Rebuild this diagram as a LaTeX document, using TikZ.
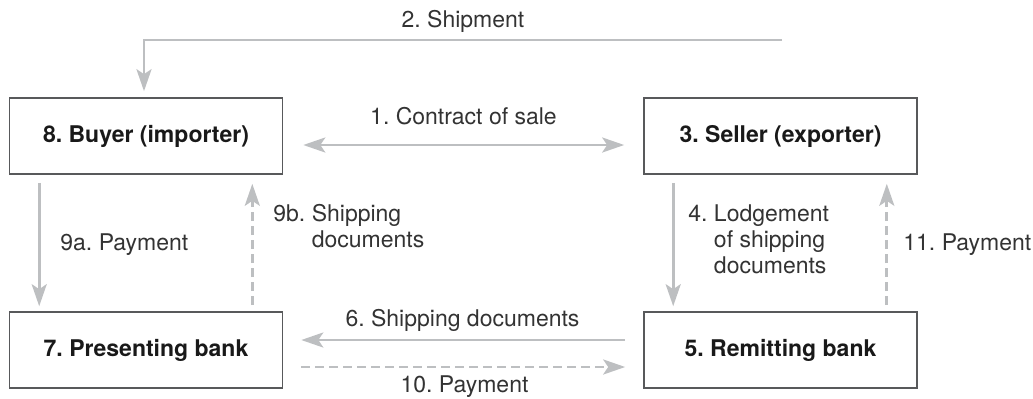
\documentclass[tikz,border=0pt]{standalone}
\usepackage{fontspec}
\setmainfont{TeX Gyre Heros}
\usetikzlibrary{arrows.meta}
\definecolor{flowgray}{HTML}{BDBFC1}
\definecolor{boxline}{HTML}{58595B}
\definecolor{labeltext}{HTML}{333333}
\newcommand{\flowfont}{\fontsize{11.5}{13}\selectfont}
\begin{document}
\frenchspacing
\begin{tikzpicture}[x=0.5pt,y=-0.5pt,
  >={Stealth[length=11pt,width=7.5pt,inset=2.5pt]},
  party/.style={draw=boxline,line width=0.8pt,minimum width=136.5pt,minimum height=38pt,
    font=\flowfont\bfseries,text=black!90},
  flow/.style={draw=flowgray,line width=1.4pt,->},
  later/.style={flow,dash pattern=on 4.5pt off 2.5pt},
  note/.style={text=labeltext,inner sep=0pt,align=left,font=\flowfont}]
  \useasboundingbox (0,0) rectangle (1033,398);
  \node[party] (buyer) at (146,136) {8. Buyer (importer)};
  \node[party] (seller) at (780.5,136) {3. Seller (exporter)};
  \node[party] (presenting) at (146,350) {7. Presenting bank};
  \node[party] (remitting) at (780.5,350) {5. Remitting bank};
  % shipment runs over the top
  \coordinate (shipstart) at (782,40);
  \draw[flow] (shipstart) -| ([xshift=-1pt,yshift=3pt]buyer.north);
  \node[note,anchor=base] at (463,27) {2. Shipment};
  \draw[flow,<->] ([xshift=10pt,yshift=-4.5pt]buyer.east) -- ([xshift=-9.5pt,yshift=-4.5pt]seller.west);
  \node[note,anchor=base] at (463.5,124) {1. Contract of sale};
  % buyer side
  \draw[flow] ([xshift=15.25pt,yshift=-4pt]buyer.south west) -- ([xshift=15.25pt,yshift=2.5pt]presenting.north west);
  \draw[later] ([xshift=-15.5pt,yshift=3pt]presenting.north east) -- ([xshift=-15.5pt,yshift=-4.5pt]buyer.south east);
  \node[note,anchor=base west] at (60,250) {9a. Payment};
  \node[note,anchor=base west] at (273,247) {9b. Shipping\\\phantom{9b. }documents};
  % seller side
  \draw[flow] ([xshift=15pt,yshift=-4pt]seller.south west) -- ([xshift=15pt,yshift=2.5pt]remitting.north west);
  \draw[later] ([xshift=-15.5pt,yshift=3pt]remitting.north east) -- ([xshift=-15.5pt,yshift=-4.5pt]seller.south east);
  \node[note,anchor=base west] at (688,273) {4. Lodgement\\\phantom{4. }of shipping\\\phantom{4. }documents};
  \node[note,anchor=base west] at (903,250) {11. Payment};
  % between the banks
  \draw[flow] ([xshift=-9pt,yshift=5pt]remitting.west) -- ([xshift=9pt,yshift=5pt]presenting.east);
  \draw[later] ([xshift=9pt,yshift=-8.5pt]presenting.east) -- ([xshift=-9pt,yshift=-8.5pt]remitting.west);
  \node[note,anchor=base] at (462.5,326) {6. Shipping documents};
  \node[note,anchor=base] at (464.5,392) {10. Payment};
\end{tikzpicture}
\end{document}
